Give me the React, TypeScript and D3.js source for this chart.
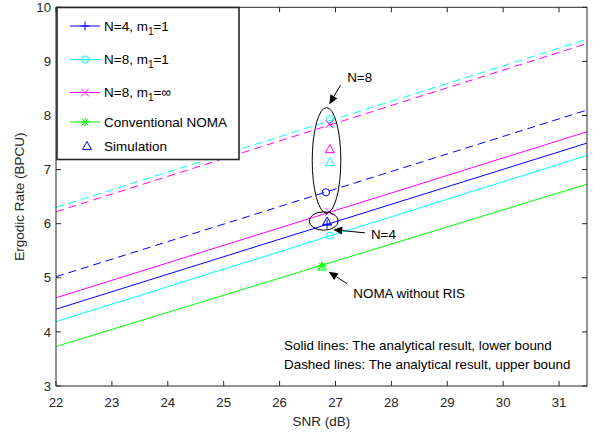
import React from "react";
import * as d3 from "d3";

// ---------- data ----------
const snr = [22, 31.5];
const n4Lower = [4.42, 7.49];
const n4Upper = [5.02, 8.1];
const n8Lower = [4.19, 7.26];
const n8Upper = [6.3, 9.41];
const n8InfLower = [4.63, 7.7];
const n8InfUpper = [6.22, 9.33];
const nomaLine = [3.73, 6.73];

const xTicks = [22, 23, 24, 25, 26, 27, 28, 29, 30, 31];
const yTicks = [3, 4, 5, 6, 7, 8, 9, 10];

// markers: [snr, value]
const cyanCircles = [[26.9, 7.93], [26.9, 5.78]];
const magentaCrosses = [[26.89, 7.84], [26.89, 6.22]];
const blueCircles = [[26.83, 6.58]];
const bluePluses = [[26.85, 5.99]];
const greenStars = [[26.76, 5.22]];
const simBlue = [[26.85, 6.04]];
const simCyan = [[26.9, 7.14]];
const simMagenta = [[26.9, 7.38]];
const simGreen = [[26.76, 5.21]];

const legendLabels = ["N=4, m", "N=8, m", "N=8, m", "Conventional NOMA", "Simulation"];
const legendTails = ["=1", "=1", "=\u221E", "", ""];

const BLUE = "#0000ff";
const CYAN = "#00ffff";
const MAGENTA = "#ff00ff";
const GREEN = "#00ff00";

const W = 600, H = 435;
const L = 56, R = 587, T = 7.3, B = 386;
const FONT = "'Liberation Sans', Arial, Helvetica, sans-serif";

const x = d3.scaleLinear().domain([22, 31.5]).range([L, R]);
const y = d3.scaleLinear().domain([3, 10]).range([B, T]);

const line = d3
  .line<[number, number]>()
  .x((d) => x(d[0]))
  .y((d) => y(d[1]));

const pts = (vals: number[]) => snr.map((s, i) => [s, vals[i]] as [number, number]);

function Marker({ kind, cx, cy, color }: { kind: string; cx: number; cy: number; color: string }) {
  const s = 3.8;
  if (kind === "circle") return <circle cx={cx} cy={cy} r={3.6} fill="none" stroke={color} strokeWidth={1} />;
  if (kind === "plus")
    return (
      <path d={`M${cx - 4.5},${cy}H${cx + 4.5}M${cx},${cy - 4.5}V${cy + 4.5}`} stroke={color} strokeWidth={1} />
    );
  if (kind === "x")
    return (
      <path
        d={`M${cx - s},${cy - s}L${cx + s},${cy + s}M${cx - s},${cy + s}L${cx + s},${cy - s}`}
        stroke={color}
        strokeWidth={1}
      />
    );
  if (kind === "star") {
    const a = 4.2, b = 3.0;
    return (
      <path
        d={`M${cx - a},${cy}H${cx + a}M${cx},${cy - a}V${cy + a}M${cx - b},${cy - b}L${cx + b},${cy + b}M${cx - b},${cy + b}L${cx + b},${cy - b}`}
        stroke={color}
        strokeWidth={1}
      />
    );
  }
  if (kind === "tri") {
    const h = 4.5;
    return (
      <path
        d={`M${cx},${cy - h}L${cx + h},${cy + h * 0.8}L${cx - h},${cy + h * 0.8}Z`}
        fill="none"
        stroke={color}
        strokeWidth={1}
      />
    );
  }
  return null;
}

function Arrow({ x1, y1, x2, y2 }: { x1: number; y1: number; x2: number; y2: number }) {
  const dx = x2 - x1, dy = y2 - y1;
  const len = Math.hypot(dx, dy);
  const ux = dx / len, uy = dy / len;
  const hl = 9, hw = 4;
  const bx = x2 - ux * hl, by = y2 - uy * hl;
  const px = -uy, py = ux;
  return (
    <g>
      <line x1={x1} y1={y1} x2={bx} y2={by} stroke="#000" strokeWidth={1} />
      <path d={`M${x2},${y2}L${bx + px * hw},${by + py * hw}L${bx - px * hw},${by - py * hw}Z`} fill="#000" />
    </g>
  );
}

export default function App() {
  const series = [
    { v: n8Upper, c: CYAN, dash: true },
    { v: n8InfUpper, c: MAGENTA, dash: true },
    { v: n4Upper, c: BLUE, dash: true },
    { v: n8InfLower, c: MAGENTA, dash: false },
    { v: n4Lower, c: BLUE, dash: false },
    { v: n8Lower, c: CYAN, dash: false },
    { v: nomaLine, c: GREEN, dash: false },
  ];
  const legendColors = [BLUE, CYAN, MAGENTA, GREEN, BLUE];
  const legendMarks = ["plus", "circle", "x", "star", "tri"];
  const legendRows = [26, 59.5, 92.5, 122, 146];

  // annotation anchors in data units
  const n8Text = [27.21, 8.71];
  const n8Arrow = [[27.09, 8.56], [26.89, 8.21]];
  const n4Text = [27.635, 5.81];
  const n4Arrow = [[27.53, 5.83], [26.96, 5.89]];
  const nomaText = [27.32, 4.71];
  const nomaArrow = [[27.21, 4.89], [26.88, 5.11]];
  const noteX = 26.08;
  const noteY = [3.745, 3.41];

  return (
    <svg
      width={W}
      height={H}
      style={{ position: "absolute", left: 0, top: 0, background: "#fff" }}
      fontFamily={FONT}
    >
      <rect x={0} y={0} width={W} height={H} fill="#fff" />
      <rect x={L} y={T} width={R - L} height={B - T} fill="#fff" />

      {/* lines */}
      <defs>
        <clipPath id="clip">
          <rect x={L} y={T} width={R - L} height={B - T} />
        </clipPath>
      </defs>
      <g clipPath="url(#clip)">
        {series.map((s, i) => (
          <path
            key={i}
            d={line(pts(s.v)) || ""}
            fill="none"
            stroke={s.c}
            strokeWidth={1}
            strokeDasharray={s.dash ? "8,5" : undefined}
          />
        ))}
      </g>

      {/* markers */}
      {cyanCircles.map((d, i) => <Marker key={"cc" + i} kind="circle" cx={x(d[0])} cy={y(d[1])} color={CYAN} />)}
      {magentaCrosses.map((d, i) => <Marker key={"mx" + i} kind="x" cx={x(d[0])} cy={y(d[1])} color={MAGENTA} />)}
      {blueCircles.map((d, i) => <Marker key={"bc" + i} kind="circle" cx={x(d[0])} cy={y(d[1])} color={BLUE} />)}
      {bluePluses.map((d, i) => <Marker key={"bp" + i} kind="plus" cx={x(d[0])} cy={y(d[1])} color={BLUE} />)}
      {greenStars.map((d, i) => <Marker key={"gs" + i} kind="star" cx={x(d[0])} cy={y(d[1])} color={GREEN} />)}
      {simBlue.map((d, i) => <Marker key={"sb" + i} kind="tri" cx={x(d[0])} cy={y(d[1])} color={BLUE} />)}
      {simCyan.map((d, i) => <Marker key={"sc" + i} kind="tri" cx={x(d[0])} cy={y(d[1])} color={CYAN} />)}
      {simMagenta.map((d, i) => <Marker key={"sm" + i} kind="tri" cx={x(d[0])} cy={y(d[1])} color={MAGENTA} />)}
      {simGreen.map((d, i) => <Marker key={"sg" + i} kind="tri" cx={x(d[0])} cy={y(d[1])} color={GREEN} />)}

      {/* ellipses */}
      <ellipse cx={x(26.84)} cy={y(7.17)} rx={x(26.84 + 0.256) - x(26.84)} ry={y(7.17) - y(7.17 + 0.976)} fill="none" stroke="#000" strokeWidth={1} />
      <ellipse cx={x(26.79)} cy={y(6.05)} rx={x(26.79 + 0.26) - x(26.79)} ry={y(6.05) - y(6.05 + 0.17)} fill="none" stroke="#000" strokeWidth={1} />

      {/* arrows + annotation texts */}
      <Arrow x1={x(n8Arrow[0][0])} y1={y(n8Arrow[0][1])} x2={x(n8Arrow[1][0])} y2={y(n8Arrow[1][1])} />
      <Arrow x1={x(n4Arrow[0][0])} y1={y(n4Arrow[0][1])} x2={x(n4Arrow[1][0])} y2={y(n4Arrow[1][1])} />
      <Arrow x1={x(nomaArrow[0][0])} y1={y(nomaArrow[0][1])} x2={x(nomaArrow[1][0])} y2={y(nomaArrow[1][1])} />
      <g fontSize={13.4} fill="#000">
        <text x={x(n8Text[0])} y={y(n8Text[1])} dy="0.35em">N=8</text>
        <text x={x(n4Text[0])} y={y(n4Text[1])} dy="0.35em">N=4</text>
        <text x={x(nomaText[0])} y={y(nomaText[1])} dy="0.35em">NOMA without RIS</text>
        <text x={x(noteX)} y={y(noteY[0])} dy="0.35em">Solid lines: The analytical result, lower bound</text>
        <text x={x(noteX)} y={y(noteY[1])} dy="0.35em">Dashed lines: The analytical result, upper bound</text>
      </g>

      {/* axes box */}
      <rect x={L} y={T} width={R - L} height={B - T} fill="none" stroke="#262626" strokeWidth={1} />
      {xTicks.map((t) => (
        <g key={"xt" + t}>
          <line x1={x(t)} x2={x(t)} y1={B} y2={B - 5} stroke="#262626" />
          <line x1={x(t)} x2={x(t)} y1={T} y2={T + 5} stroke="#262626" />
          <text x={x(t)} y={B + 21} textAnchor="middle" fontSize={13.2} fill="#262626">{t}</text>
        </g>
      ))}
      {yTicks.map((t) => (
        <g key={"yt" + t}>
          <line x1={L} x2={L + 5} y1={y(t)} y2={y(t)} stroke="#262626" />
          <line x1={R} x2={R - 5} y1={y(t)} y2={y(t)} stroke="#262626" />
          <text x={L - 5} y={y(t)} dy="0.35em" textAnchor="end" fontSize={13.2} fill="#262626">{t}</text>
        </g>
      ))}
      <text x={(L + R) / 2} y={426} textAnchor="middle" fontSize={13.5} fill="#262626">SNR (dB)</text>
      <text
        transform={`translate(24,${(T + B) / 2}) rotate(-90)`}
        textAnchor="middle"
        fontSize={13.5}
        fill="#262626"
      >
        Ergodic Rate (BPCU)
      </text>

      {/* legend */}
      <rect x={57} y={7.5} width={182} height={152} fill="#fff" stroke="#262626" strokeWidth={1.6} />
      {legendLabels.map((lab, i) => {
        const ry = legendRows[i];
        const c = legendColors[i];
        return (
          <g key={"lg" + i}>
            {i < 4 && <line x1={70} x2={100} y1={ry} y2={ry} stroke={c} strokeWidth={1} />}
            <Marker kind={legendMarks[i]} cx={i === 4 ? 87 : 85} cy={ry} color={c} />
            <text x={104} y={ry} dy="0.35em" fontSize={13.5} fill="#000">
              {lab}
              {i < 3 && (
                <>
                  <tspan dy="4" fontSize={10}>1</tspan>
                  <tspan dy="-4">{legendTails[i]}</tspan>
                </>
              )}
            </text>
          </g>
        );
      })}
    </svg>
  );
}
